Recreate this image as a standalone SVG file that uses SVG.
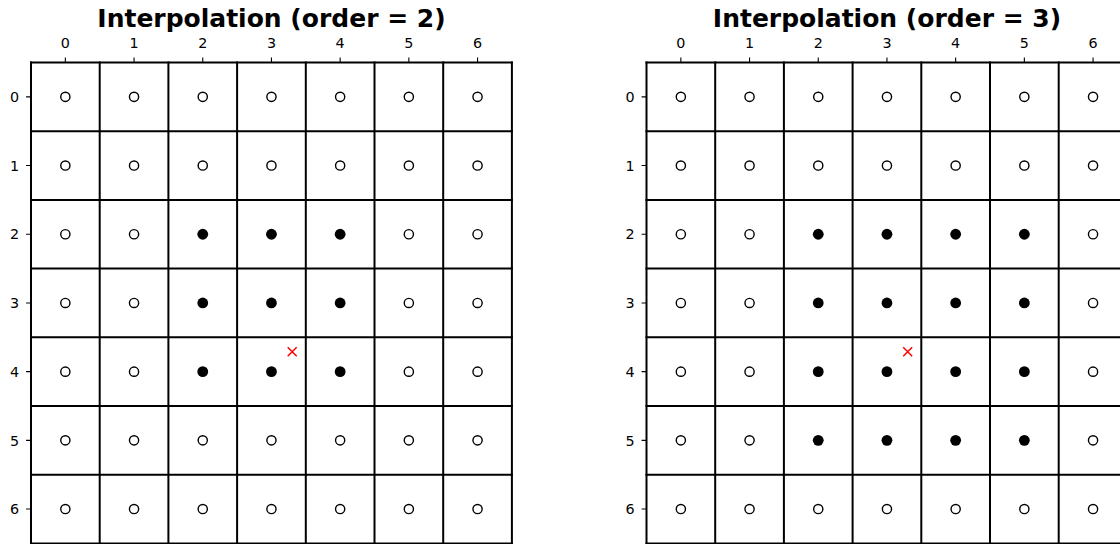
<svg xmlns="http://www.w3.org/2000/svg" xmlns:xlink="http://www.w3.org/1999/xlink" width="1120" height="544" viewBox="0 0 1120 544">
<defs>
<style>
.grid{stroke:#000;stroke-width:2;fill:none;stroke-linecap:square}
.tick{stroke:#000;stroke-width:1.1}
.tl{font-family:"DejaVu Sans",sans-serif;font-size:14.3px;fill:#000}
.title{font-family:"DejaVu Sans",sans-serif;font-size:25px;font-weight:bold;fill:#000;text-anchor:middle}
.open{fill:#fff;stroke:#000;stroke-width:1.4}
.full{fill:#000}
.cross{stroke:#f00;stroke-width:1.5;fill:none}
</style>
<circle id="o" class="open" r="4.6"/>
<circle id="f" class="full" r="5.4"/>
<path id="x" class="cross" d="M-4.5,-4.5L4.5,4.5M-4.5,4.5L4.5,-4.5"/>
</defs>
<rect width="1120" height="544" fill="#fff"/>

<g id="panel-left">
<text class="title" x="271.5" y="27">Interpolation (order = 2)</text>
<g id="left-grid" class="grid">
<path d="M31,62.5V544M99.7,62.5V544M168.4,62.5V544M237.1,62.5V544M305.8,62.5V544M374.5,62.5V544M443.2,62.5V544M511.9,62.5V544"/>
<path d="M31,62.5H511.9M31,131.2H511.9M31,199.9H511.9M31,268.6H511.9M31,337.3H511.9M31,406H511.9M31,474.7H511.9M31,543.4H511.9"/>
</g>
<g id="left-ticks" class="tick">
<path d="M65.35,62.5v-4.9M134.05,62.5v-4.9M202.75,62.5v-4.9M271.45,62.5v-4.9M340.15,62.5v-4.9M408.85,62.5v-4.9M477.55,62.5v-4.9"/>
<path d="M31,96.85h-4.9M31,165.55h-4.9M31,234.25h-4.9M31,302.95h-4.9M31,371.65h-4.9M31,440.35h-4.9M31,509.05h-4.9"/>
</g>
<g class="tl" text-anchor="middle">
<text x="65.35" y="48">0</text><text x="134.05" y="48">1</text><text x="202.75" y="48">2</text><text x="271.45" y="48">3</text><text x="340.15" y="48">4</text><text x="408.85" y="48">5</text><text x="477.55" y="48">6</text>
</g>
<g class="tl" text-anchor="end">
<text x="19" y="102">0</text><text x="19" y="170.7">1</text><text x="19" y="239.4">2</text><text x="19" y="308.1">3</text><text x="19" y="376.8">4</text><text x="19" y="445.5">5</text><text x="19" y="514.2">6</text>
</g>
<g id="left-points">
<use href="#o" x="65.35" y="96.85"/><use href="#o" x="134.05" y="96.85"/><use href="#o" x="202.75" y="96.85"/><use href="#o" x="271.45" y="96.85"/><use href="#o" x="340.15" y="96.85"/><use href="#o" x="408.85" y="96.85"/><use href="#o" x="477.55" y="96.85"/>
<use href="#o" x="65.35" y="165.55"/><use href="#o" x="134.05" y="165.55"/><use href="#o" x="202.75" y="165.55"/><use href="#o" x="271.45" y="165.55"/><use href="#o" x="340.15" y="165.55"/><use href="#o" x="408.85" y="165.55"/><use href="#o" x="477.55" y="165.55"/>
<use href="#o" x="65.35" y="234.25"/><use href="#o" x="134.05" y="234.25"/><use href="#f" x="202.75" y="234.25"/><use href="#f" x="271.45" y="234.25"/><use href="#f" x="340.15" y="234.25"/><use href="#o" x="408.85" y="234.25"/><use href="#o" x="477.55" y="234.25"/>
<use href="#o" x="65.35" y="302.95"/><use href="#o" x="134.05" y="302.95"/><use href="#f" x="202.75" y="302.95"/><use href="#f" x="271.45" y="302.95"/><use href="#f" x="340.15" y="302.95"/><use href="#o" x="408.85" y="302.95"/><use href="#o" x="477.55" y="302.95"/>
<use href="#o" x="65.35" y="371.65"/><use href="#o" x="134.05" y="371.65"/><use href="#f" x="202.75" y="371.65"/><use href="#f" x="271.45" y="371.65"/><use href="#f" x="340.15" y="371.65"/><use href="#o" x="408.85" y="371.65"/><use href="#o" x="477.55" y="371.65"/>
<use href="#o" x="65.35" y="440.35"/><use href="#o" x="134.05" y="440.35"/><use href="#o" x="202.75" y="440.35"/><use href="#o" x="271.45" y="440.35"/><use href="#o" x="340.15" y="440.35"/><use href="#o" x="408.85" y="440.35"/><use href="#o" x="477.55" y="440.35"/>
<use href="#o" x="65.35" y="509.05"/><use href="#o" x="134.05" y="509.05"/><use href="#o" x="202.75" y="509.05"/><use href="#o" x="271.45" y="509.05"/><use href="#o" x="340.15" y="509.05"/><use href="#o" x="408.85" y="509.05"/><use href="#o" x="477.55" y="509.05"/>
<use href="#x" x="292.2" y="351.8"/>
</g>
</g>

<g id="panel-right" transform="translate(615.5,0)">
<text class="title" x="271.5" y="27">Interpolation (order = 3)</text>
<g id="right-grid" class="grid">
<path d="M31,62.5V544M99.7,62.5V544M168.4,62.5V544M237.1,62.5V544M305.8,62.5V544M374.5,62.5V544M443.2,62.5V544M511.9,62.5V544"/>
<path d="M31,62.5H511.9M31,131.2H511.9M31,199.9H511.9M31,268.6H511.9M31,337.3H511.9M31,406H511.9M31,474.7H511.9M31,543.4H511.9"/>
</g>
<g id="right-ticks" class="tick">
<path d="M65.35,62.5v-4.9M134.05,62.5v-4.9M202.75,62.5v-4.9M271.45,62.5v-4.9M340.15,62.5v-4.9M408.85,62.5v-4.9M477.55,62.5v-4.9"/>
<path d="M31,96.85h-4.9M31,165.55h-4.9M31,234.25h-4.9M31,302.95h-4.9M31,371.65h-4.9M31,440.35h-4.9M31,509.05h-4.9"/>
</g>
<g class="tl" text-anchor="middle">
<text x="65.35" y="48">0</text><text x="134.05" y="48">1</text><text x="202.75" y="48">2</text><text x="271.45" y="48">3</text><text x="340.15" y="48">4</text><text x="408.85" y="48">5</text><text x="477.55" y="48">6</text>
</g>
<g class="tl" text-anchor="end">
<text x="19" y="102">0</text><text x="19" y="170.7">1</text><text x="19" y="239.4">2</text><text x="19" y="308.1">3</text><text x="19" y="376.8">4</text><text x="19" y="445.5">5</text><text x="19" y="514.2">6</text>
</g>
<g id="right-points">
<use href="#o" x="65.35" y="96.85"/><use href="#o" x="134.05" y="96.85"/><use href="#o" x="202.75" y="96.85"/><use href="#o" x="271.45" y="96.85"/><use href="#o" x="340.15" y="96.85"/><use href="#o" x="408.85" y="96.85"/><use href="#o" x="477.55" y="96.85"/>
<use href="#o" x="65.35" y="165.55"/><use href="#o" x="134.05" y="165.55"/><use href="#o" x="202.75" y="165.55"/><use href="#o" x="271.45" y="165.55"/><use href="#o" x="340.15" y="165.55"/><use href="#o" x="408.85" y="165.55"/><use href="#o" x="477.55" y="165.55"/>
<use href="#o" x="65.35" y="234.25"/><use href="#o" x="134.05" y="234.25"/><use href="#f" x="202.75" y="234.25"/><use href="#f" x="271.45" y="234.25"/><use href="#f" x="340.15" y="234.25"/><use href="#f" x="408.85" y="234.25"/><use href="#o" x="477.55" y="234.25"/>
<use href="#o" x="65.35" y="302.95"/><use href="#o" x="134.05" y="302.95"/><use href="#f" x="202.75" y="302.95"/><use href="#f" x="271.45" y="302.95"/><use href="#f" x="340.15" y="302.95"/><use href="#f" x="408.85" y="302.95"/><use href="#o" x="477.55" y="302.95"/>
<use href="#o" x="65.35" y="371.65"/><use href="#o" x="134.05" y="371.65"/><use href="#f" x="202.75" y="371.65"/><use href="#f" x="271.45" y="371.65"/><use href="#f" x="340.15" y="371.65"/><use href="#f" x="408.85" y="371.65"/><use href="#o" x="477.55" y="371.65"/>
<use href="#o" x="65.35" y="440.35"/><use href="#o" x="134.05" y="440.35"/><use href="#f" x="202.75" y="440.35"/><use href="#f" x="271.45" y="440.35"/><use href="#f" x="340.15" y="440.35"/><use href="#f" x="408.85" y="440.35"/><use href="#o" x="477.55" y="440.35"/>
<use href="#o" x="65.35" y="509.05"/><use href="#o" x="134.05" y="509.05"/><use href="#o" x="202.75" y="509.05"/><use href="#o" x="271.45" y="509.05"/><use href="#o" x="340.15" y="509.05"/><use href="#o" x="408.85" y="509.05"/><use href="#o" x="477.55" y="509.05"/>
<use href="#x" x="292.2" y="351.8"/>
</g>
</g>
</svg>
